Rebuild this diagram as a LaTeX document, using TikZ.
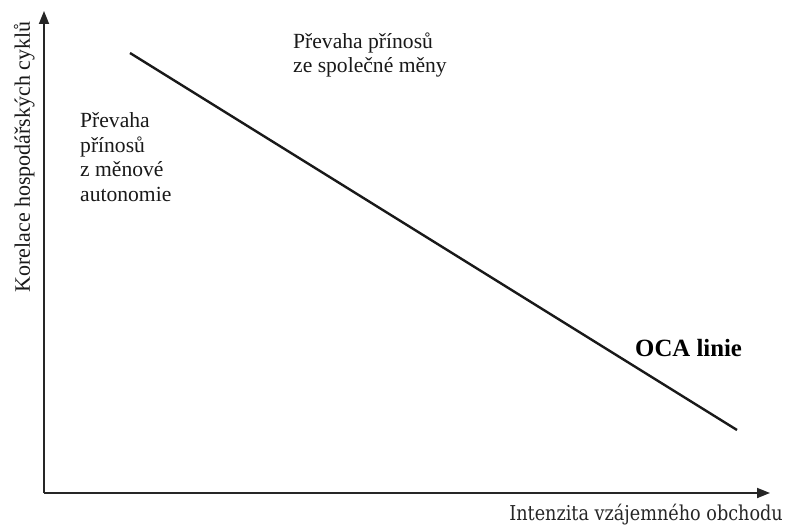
\documentclass[tikz,border=0pt]{standalone}
\usepackage{fontspec}
\setmainfont{Liberation Serif}
\newfontfamily\labfont[FakeStretch=0.86]{DejaVu Serif}
\usetikzlibrary{arrows.meta}
\begin{document}
\begin{tikzpicture}[x=1pt,y=-1pt,
  axis/.style={line width=1.8pt,draw=black!85,-{Triangle[length=13pt,width=10pt]}},
  ocaline/.style={line width=2.4pt,draw=black!90},
  txt/.style={inner sep=0pt,align=left,font=\fontsize{21.6}{24.5}\selectfont,text=black!90},
]
\useasboundingbox (0,0) rectangle (785,527);
\coordinate (o) at (44,493);
\coordinate (ytip) at (44,11);
\coordinate (xtip) at (770,493);
\coordinate (ocaA) at (130,53);
\coordinate (ocaB) at (737,430);
\draw[axis] (o) -- (ytip);
\draw[axis] (o) -- (xtip);
\draw[ocaline] (ocaA) -- (ocaB);
\node[txt,anchor=base west] (top) at (293,73) {Převaha přínosů\\ze společné měny};
\node[txt,anchor=base west] (left) at (80,201) {Převaha\\přínosů\\z měnové\\autonomie};
\node[inner sep=0pt,anchor=base west,font=\bfseries\fontsize{24.8}{28}\selectfont] (oca) at (635,356) {OCA linie};
\node[inner sep=0pt,anchor=base,rotate=90,font=\fontsize{22}{24}\selectfont,text=black!90] (ylab) at (30,157) {Korelace hospodářských cyklů};
\node[inner sep=0pt,anchor=base east,font=\labfont\fontsize{20.5}{24}\selectfont,text=black!85] (xlab) at (783,520) {Intenzita vzájemného obchodu};
\end{tikzpicture}
\end{document}
